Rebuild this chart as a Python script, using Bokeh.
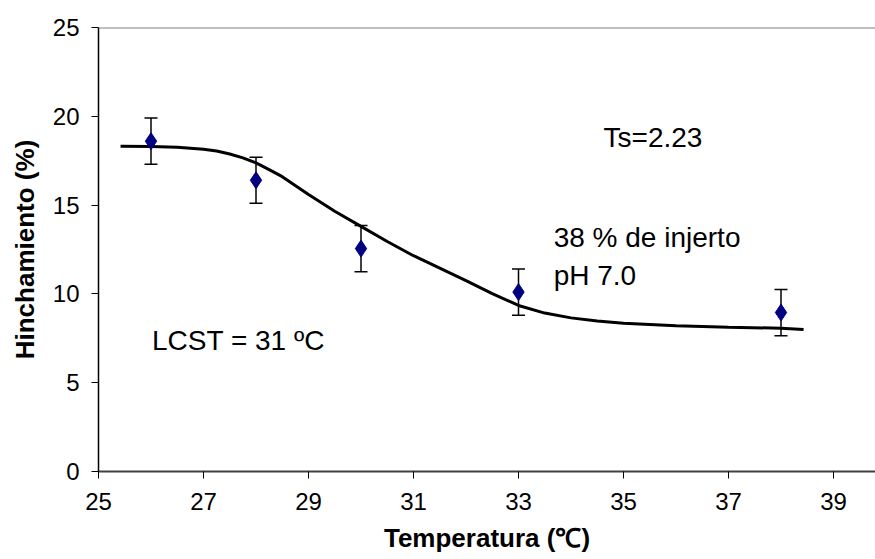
from bokeh.plotting import figure
from bokeh.models import Range1d, FixedTicker, Span, Whisker, ColumnDataSource
from bokeh.core.properties import value
from bokeh.embed import file_html
from bokeh.resources import INLINE

# Data
temperatura = [26, 28, 30, 33, 38]
hinchamiento = [18.6, 16.4, 12.55, 10.1, 8.95]
error = [1.3, 1.3, 1.3, 1.3, 1.3]

curve_x = [25.42, 26, 26.5, 27, 27.25, 27.5, 27.75, 28, 28.25, 28.5, 29, 29.5, 30, 30.5, 31, 31.5, 32, 32.5, 33, 33.5, 34, 34.5, 35, 36, 37, 38, 38.43]
curve_y = [18.32, 18.3, 18.26, 18.15, 18.05, 17.88, 17.66, 17.38, 17.0, 16.6, 15.6, 14.65, 13.8, 12.95, 12.15, 11.45, 10.75, 10.02, 9.35, 8.92, 8.65, 8.47, 8.35, 8.2, 8.12, 8.07, 8.0]

x_ticks = [25, 27, 29, 31, 33, 35, 37, 39]
y_ticks = [0, 5, 10, 15, 20, 25]

FONT = "Liberation Sans"

p = figure(width=875, height=559, output_backend="svg", toolbar_location=None,
           x_range=Range1d(25, 39.8), y_range=Range1d(0, 25),
           min_border_left=98, min_border_right=0, min_border_top=27, min_border_bottom=88)
p.outline_line_color = None
p.grid.visible = False
p.background_fill_color = "white"
p.border_fill_color = "white"

# top border of plot area
p.add_layout(Span(location=25, dimension="width", line_color="#808080", line_width=2))

# fitted curve
p.line(curve_x, curve_y, line_color="black", line_width=3)

# error bars
src = ColumnDataSource(dict(x=temperatura, y=hinchamiento,
                            lo=[v - e for v, e in zip(hinchamiento, error)],
                            hi=[v + e for v, e in zip(hinchamiento, error)]))
w = Whisker(source=src, base="x", lower="lo", upper="hi", line_color="black", line_width=1.5)
w.upper_head.size = 13
w.lower_head.size = 13
w.upper_head.line_color = "black"
w.lower_head.line_color = "black"
w.upper_head.line_width = 1.5
w.lower_head.line_width = 1.5
p.add_layout(w)

p.scatter("x", "y", source=src, marker="diamond", size=17, fill_color="#000080", line_color="#000080")

# annotations
p.text(x=[34.62], y=[18.8], text=["Ts=2.23"], text_font=value(FONT), text_font_size="28px",
       text_baseline="middle", text_align="left", text_color="black")
p.text(x=[33.67, 33.67], y=[13.19, 11.04], text=["38 % de injerto", "pH 7.0"], text_font=value(FONT),
       text_font_size="28px", text_baseline="middle", text_align="left", text_color="black")
p.text(x=[26.02], y=[7.38], text=["LCST = 31 ºC"], text_font=value(FONT), text_font_size="28px",
       text_baseline="middle", text_align="left", text_color="black")

# axes
p.xaxis.ticker = FixedTicker(ticks=x_ticks)
p.yaxis.ticker = FixedTicker(ticks=y_ticks)
for ax in (p.xaxis[0], p.yaxis[0]):
    ax.major_tick_in = 0
    ax.major_tick_out = 7
    ax.minor_tick_in = 0
    ax.minor_tick_out = 0
    ax.major_label_text_font = FONT
    ax.major_label_text_font_size = "24px"
    ax.major_label_text_color = "black"
    ax.axis_label_text_font = FONT
    ax.axis_label_text_font_size = "26px"
    ax.axis_label_text_font_style = "bold"
    ax.axis_label_text_color = "black"
    ax.major_tick_line_color = "black"
p.xaxis.axis_line_color = "#404040"
p.xaxis.axis_line_width = 2
p.yaxis.axis_line_color = "black"
p.yaxis.axis_line_width = 1.5
p.xaxis.axis_label = "Temperatura (℃)"
p.yaxis.axis_label = "Hinchamiento (%)"
p.xaxis.major_label_standoff = 14
p.yaxis.major_label_standoff = 12
p.xaxis.axis_label_standoff = 10
p.yaxis.axis_label_standoff = 10

open("out.html", "w").write(file_html(p, INLINE))
